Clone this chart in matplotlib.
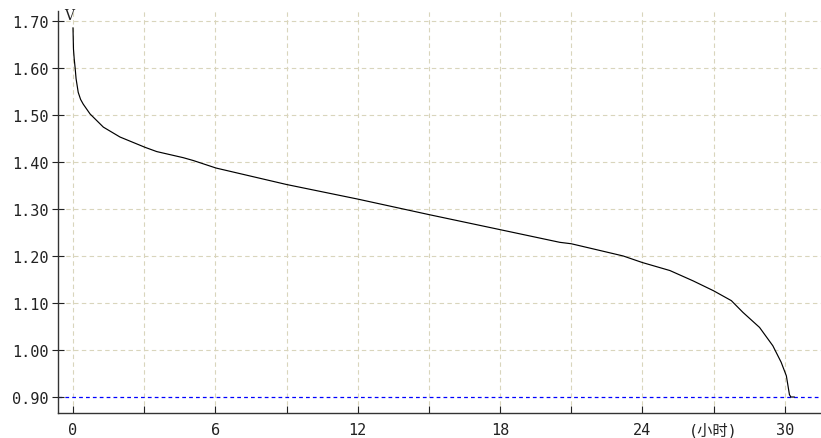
#!/usr/bin/env python3
import matplotlib
matplotlib.use("Agg")
import matplotlib.pyplot as plt

plt.rcParams["font.family"] = ["DejaVu Sans Mono", "Noto Sans CJK SC"]

# discharge curve, hours vs volts
hours = [0.0, 0.02, 0.05, 0.09, 0.13, 0.22, 0.32, 0.43, 0.72, 1.0, 1.28,
         1.98, 3.04, 3.53, 4.65, 5.07, 6.03, 9.0, 12.0, 15.0, 18.0, 20.52,
         21.0, 21.93, 23.19, 24.0, 25.16, 26.14, 27.0, 27.75, 28.24, 28.94,
         29.5, 29.85, 30.07, 30.2, 30.26, 30.4]
volts = [1.685, 1.64, 1.62, 1.60, 1.577, 1.548, 1.533, 1.523, 1.502, 1.488,
         1.474, 1.453, 1.431, 1.422, 1.409, 1.403, 1.387, 1.352, 1.321,
         1.288, 1.256, 1.229, 1.226, 1.215, 1.200, 1.186, 1.169, 1.147,
         1.126, 1.105, 1.080, 1.048, 1.009, 0.974, 0.945, 0.905, 0.90, 0.90]

cutoff_volts = 0.90
y_ticks = [0.90, 1.00, 1.10, 1.20, 1.30, 1.40, 1.50, 1.60, 1.70]
x_ticks = [0, 3, 6, 9, 12, 15, 18, 21, 24, 27, 30]
x_tick_labels = ["0", "", "6", "", "12", "", "18", "", "24", "(小时)", "30"]

fig = plt.figure(figsize=(8.21, 4.39), dpi=100)
ax = fig.add_axes([58 / 821, 25 / 439, 763 / 821, 402 / 439])

grid_color = "#d9d5bc"
for x in x_ticks:
    ax.axvline(x, color=grid_color, lw=0.8, ls=(0, (4, 3)), zorder=0)
for y in y_ticks[1:]:
    ax.axhline(y, color=grid_color, lw=0.8, ls=(0, (4, 3)), zorder=0)
ax.axhline(cutoff_volts, color="#0000ff", lw=0.9, ls=(0, (3, 2.5)), zorder=1)

ax.plot(hours, volts, color="black", lw=0.85, zorder=2)

ax.set_xlim(-0.632, 31.53)
ax.set_ylim(0.866, 1.721)

ax.set_yticks(y_ticks, [f"{v:.2f}" for v in y_ticks])
ax.set_xticks(x_ticks, x_tick_labels)
ax.tick_params(axis="y", direction="inout", length=9, width=0.8, pad=2,
               labelsize=11, colors="#222222")
ax.tick_params(axis="x", direction="in", length=5, width=0.8, pad=6.5,
               labelsize=11, colors="#222222")

for side in ("top", "right"):
    ax.spines[side].set_visible(False)
for side in ("left", "bottom"):
    ax.spines[side].set_color("#333333")
    ax.spines[side].set_linewidth(1.0)

ax.text(-0.17, 1.712, "V", fontsize=10, ha="center", va="center",
        family="DejaVu Serif", color="#222222")

fig.savefig("out.png", dpi=100)
